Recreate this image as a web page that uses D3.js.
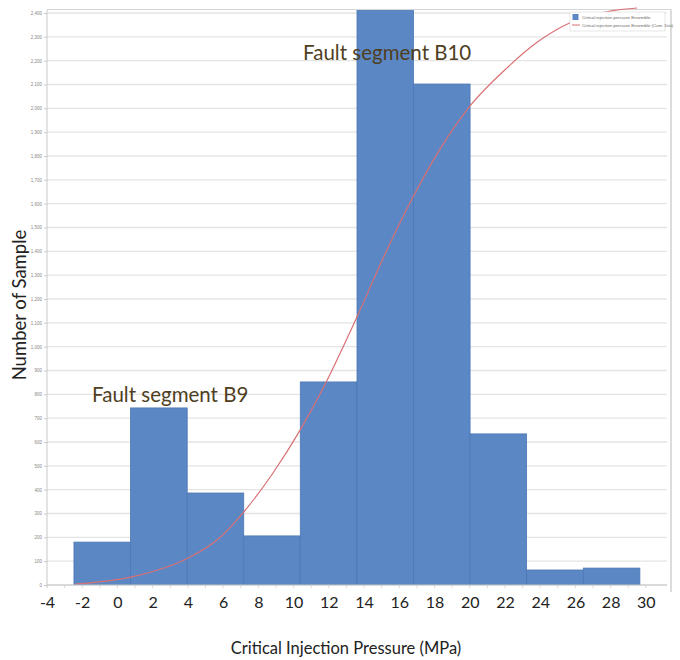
<!DOCTYPE html>
<html>
<head>
<meta charset="utf-8">
<script src="https://cdn.jsdelivr.net/npm/d3@7"></script>
<style>
  html, body { margin: 0; padding: 0; background: #fff; }
  svg { display: block; }
</style>
</head>
<body>
<svg id="chart" width="680" height="660"></svg>
<script>
// Histogram of critical injection pressure (MPa) with cumulative curve
const binEdges = [-2.47, 0.74, 3.96, 7.17, 10.38, 13.60, 16.81, 20.02, 23.23, 26.45, 29.66];
const binCounts = [180, 743, 386, 206, 852, 2412, 2102, 634, 63, 71];

// Cumulative distribution curve (same count scale), read point by point
const cumX = [-2.41, 0.83, 4.01, 5.65, 7.12, 8.83, 10.37, 11.62, 13.60, 15.20, 16.78, 18.32, 20.02, 22.12, 23.88, 25.58, 27.00, 28.14, 29.50];
const cumY = [4, 34, 113, 189, 302, 470, 650, 818, 1125, 1390, 1628, 1830, 2010, 2170, 2280, 2355, 2392, 2410, 2421];

const xTickValues = [-4, -2, 0, 2, 4, 6, 8, 10, 12, 14, 16, 18, 20, 22, 24, 26, 28, 30];
const yTickValues = d3.range(0, 2401, 100);

const legendLabels = ["Critical injection pressure Ensemble", "Critical injection pressure Ensemble (Cum. Dist)"];
const annotations = [
  { text: "Fault segment B9", x: -1.44, y: 768 },
  { text: "Fault segment B10", x: 10.54, y: 2203 }
];

const svg = d3.select("#chart");
const plot = { left: 47, right: 667, top: 10, bottom: 585 };

const x = d3.scaleLinear().domain([-4, 31.2]).range([plot.left, plot.right]);
const y = d3.scaleLinear().domain([0, 2400]).range([plot.bottom, 13]);

// outer frame of plot area
svg.append("line").attr("x1", plot.left).attr("x2", 671).attr("y1", 9.5).attr("y2", 9.5)
  .attr("stroke", "#d6d6d6").attr("stroke-width", 1.2);
svg.append("line").attr("x1", 671).attr("x2", 671).attr("y1", 9.5).attr("y2", 592)
  .attr("stroke", "#d0d0d0").attr("stroke-width", 1.5);

// gridlines
svg.append("g")
  .selectAll("line")
  .data(yTickValues)
  .join("line")
  .attr("x1", plot.left)
  .attr("x2", plot.right)
  .attr("y1", d => y(d))
  .attr("y2", d => y(d))
  .attr("stroke", "#e4e4e4")
  .attr("stroke-width", 1.3);

// clip so the tallest bar stops at the frame
svg.append("clipPath").attr("id", "plotClip")
  .append("rect").attr("x", plot.left).attr("y", plot.top)
  .attr("width", plot.right - plot.left).attr("height", plot.bottom - plot.top);

const bins = binCounts.map((c, i) => ({ x0: binEdges[i], x1: binEdges[i + 1], count: c }));

svg.append("g")
  .attr("clip-path", "url(#plotClip)")
  .selectAll("rect")
  .data(bins)
  .join("rect")
  .attr("x", d => x(d.x0))
  .attr("width", d => x(d.x1) - x(d.x0))
  .attr("y", d => y(d.count))
  .attr("height", d => y(0) - y(d.count))
  .attr("fill", "#5b87c4")
  .attr("stroke", "#4c78b5")
  .attr("stroke-width", 0.8);

// cumulative curve
const cumPts = cumX.map((v, i) => [v, cumY[i]]);
const line = d3.line().x(d => x(d[0])).y(d => y(d[1])).curve(d3.curveMonotoneX);
svg.append("path")
  .datum(cumPts)
  .attr("d", line)
  .attr("fill", "none")
  .attr("stroke", "#d97074")
  .attr("stroke-width", 1.2);

// y axis (small grey labels)
const yAxis = d3.axisLeft(y).tickValues(yTickValues).tickFormat(d3.format(",")).tickSize(3).tickPadding(2);
const gy = svg.append("g").attr("transform", `translate(${plot.left},0)`).call(yAxis);
gy.select(".domain").attr("stroke", "#c8c8c8").attr("d", `M0,${plot.top}V${plot.bottom + 3}`);
gy.selectAll(".tick line").attr("stroke", "#c8c8c8");
gy.selectAll(".tick text").attr("fill", "#888").style("font-size", "4.5px")
  .style("font-family", "Liberation Sans, Arial, sans-serif");

// bottom axis line with small minor ticks
const minorTicks = d3.range(-3, 31, 1);
const gxm = svg.append("g").attr("transform", `translate(0,${plot.bottom})`);
gxm.append("line").attr("x1", plot.left).attr("x2", plot.right).attr("stroke", "#c8c8c8").attr("stroke-width", 1);
gxm.selectAll("line.minor").data(minorTicks).join("line").attr("class", "minor")
  .attr("x1", d => x(d)).attr("x2", d => x(d)).attr("y1", 0).attr("y2", 3)
  .attr("stroke", "#cfcfcf").attr("stroke-width", 0.8);

// large x tick labels (plain hyphen for negatives)
const xAxis = d3.axisBottom(x).tickValues(xTickValues).tickSize(0).tickPadding(0).tickFormat(d => String(d));
const gx = svg.append("g").attr("transform", "translate(0,597)").call(xAxis);
gx.select(".domain").remove();
gx.selectAll(".tick text")
  .attr("dy", "0.71em")
  .attr("fill", "#222")
  .style("font-size", "16px")
  .style("font-family", "Lato, 'Open Sans', sans-serif");

// axis titles
svg.append("text")
  .attr("x", 346).attr("y", 654)
  .attr("text-anchor", "middle")
  .attr("fill", "#222")
  .style("font-size", "16.5px")
  .style("font-family", "Lato, 'Open Sans', sans-serif")
  .text("Critical Injection Pressure (MPa)");

svg.append("text")
  .attr("transform", "translate(26,305) rotate(-90)")
  .attr("text-anchor", "middle")
  .attr("fill", "#222")
  .style("font-size", "18.5px")
  .style("font-family", "Lato, 'Open Sans', sans-serif")
  .text("Number of Sample");

// annotations
svg.append("g").selectAll("text")
  .data(annotations)
  .join("text")
  .attr("x", d => x(d.x))
  .attr("y", d => y(d.y))
  .attr("fill", "#4f3f1f")
  .style("font-size", "20.5px")
  .style("font-family", "Lato, 'Open Sans', sans-serif")
  .text(d => d.text);

// legend
const lg = svg.append("g").attr("transform", "translate(570,12)");
lg.append("rect").attr("width", 95).attr("height", 19).attr("fill", "#fff")
  .attr("stroke", "#e2e2e2").attr("stroke-width", 0.8);
lg.append("rect").attr("x", 2.5).attr("y", 2).attr("width", 6).attr("height", 6).attr("fill", "#5b87c4");
lg.append("line").attr("x1", 2).attr("x2", 10).attr("y1", 13).attr("y2", 13)
  .attr("stroke", "#d97074").attr("stroke-width", 1);
lg.selectAll("text.lbl").data(legendLabels).join("text").attr("class", "lbl")
  .attr("x", 12).attr("y", (d, i) => 6.5 + i * 8.5)
  .attr("fill", "#666")
  .style("font-size", "4.3px")
  .style("font-family", "Liberation Sans, Arial, sans-serif")
  .text(d => d);
</script>
</body>
</html>
